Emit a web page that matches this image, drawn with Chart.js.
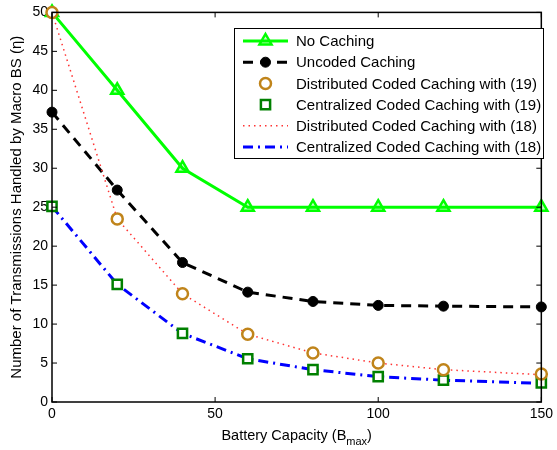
<!DOCTYPE html>
<html>
<head>
<meta charset="utf-8">
<script src="https://cdn.jsdelivr.net/npm/chart.js@4/dist/chart.umd.min.js"></script>
<style>
  html, body { margin: 0; padding: 0; background: #fff; }
  #wrap { position: relative; width: 557px; height: 450px; }
</style>
</head>
<body>
<div id="wrap"><canvas id="chart"></canvas></div>
<script>
// Battery capacity values (x axis)
const batteryCap = [0, 20, 40, 60, 80, 100, 120, 150];

// Series
const noCaching     = [50, 40, 30, 25, 25, 25, 25, 25];
const uncoded       = [37.2, 27.2, 17.9, 14.1, 12.9, 12.4, 12.3, 12.2];
const distCoded19   = [50, 23.5, 13.9, 8.7, 6.3, 5.0, 4.15, 3.6];
const centCoded19   = [25.1, 15.1, 8.8, 5.55, 4.15, 3.25, 2.8, 2.45];
const distCoded18   = [50, 23.5, 13.9, 8.7, 6.3, 5.0, 4.15, 3.5];
const centCoded18   = [25.1, 15.1, 8.8, 5.55, 4.15, 3.25, 2.8, 2.4];

const xTicks = [0, 50, 100, 150];
const yTicks = [0, 5, 10, 15, 20, 25, 30, 35, 40, 45, 50];

const FONT = '"Liberation Sans", Arial, Helvetica, sans-serif';
const pts = arr => arr.map((v, i) => ({ x: batteryCap[i], y: v }));

// legend box + inward ticks + axis titles, drawn MATLAB style
const matlabFrame = {
  id: 'matlabFrame',
  afterDraw(chart) {
    const { ctx, chartArea: a, scales: { x, y } } = chart;
    ctx.save();
    ctx.strokeStyle = '#000';
    ctx.lineWidth = 1.5;
    ctx.setLineDash([]);
    ctx.strokeRect(a.left, a.top, a.right - a.left, a.bottom - a.top);

    // inward ticks
    ctx.lineWidth = 1;
    const tl = 5;
    xTicks.forEach(v => {
      const px = x.getPixelForValue(v);
      ctx.beginPath();
      ctx.moveTo(px, a.bottom); ctx.lineTo(px, a.bottom - tl);
      ctx.moveTo(px, a.top); ctx.lineTo(px, a.top + tl);
      ctx.stroke();
    });
    yTicks.forEach(v => {
      const py = y.getPixelForValue(v);
      ctx.beginPath();
      ctx.moveTo(a.left, py); ctx.lineTo(a.left + tl, py);
      ctx.moveTo(a.right, py); ctx.lineTo(a.right - tl, py);
      ctx.stroke();
    });

    // x title with subscript
    ctx.fillStyle = '#000';
    ctx.textBaseline = 'alphabetic';
    ctx.textAlign = 'left';
    const main = 'Battery Capacity (B', sub = 'max', close = ')';
    ctx.font = '14.5px ' + FONT;
    const w1 = ctx.measureText(main).width, w3 = ctx.measureText(close).width;
    ctx.font = '11px ' + FONT;
    const w2 = ctx.measureText(sub).width;
    let sx = (a.left + a.right) / 2 - (w1 + w2 + w3) / 2;
    const by = 440;
    ctx.font = '14.5px ' + FONT;
    ctx.fillText(main, sx, by);
    ctx.font = '11px ' + FONT;
    ctx.fillText(sub, sx + w1, by + 5);
    ctx.font = '14.5px ' + FONT;
    ctx.fillText(close, sx + w1 + w2, by);

    // y title
    ctx.save();
    ctx.translate(21, (a.top + a.bottom) / 2);
    ctx.rotate(-Math.PI / 2);
    ctx.textAlign = 'center';
    ctx.font = '15px ' + FONT;
    ctx.fillText('Number of Transmissions Handled by Macro BS (\u03B7)', 0, 0);
    ctx.restore();

    // legend
    const lx = 234, ly = 28, lw = 309, lh = 130;
    ctx.fillStyle = '#fff';
    ctx.fillRect(lx, ly, lw, lh);
    ctx.strokeStyle = '#000';
    ctx.lineWidth = 1;
    ctx.strokeRect(lx + 0.5, ly + 0.5, lw, lh);
    chart.data.datasets.forEach((ds, i) => {
      const cy = ly + 13 + i * 21.2;
      const x0 = 243, x1 = 288, cx = (x0 + x1) / 2;
      if (ds.showLine !== false) {
        ctx.beginPath();
        ctx.strokeStyle = ds.borderColor;
        ctx.lineWidth = ds.borderWidth;
        ctx.setLineDash(ds.borderDash || []);
        ctx.moveTo(x0, cy); ctx.lineTo(x1, cy);
        ctx.stroke();
        ctx.setLineDash([]);
      }
      if (ds.pointRadius > 0) {
        ctx.beginPath();
        ctx.strokeStyle = ds.pointBorderColor;
        ctx.fillStyle = ds.pointBackgroundColor;
        ctx.lineWidth = ds.pointBorderWidth;
        const r = ds.pointRadius;
        if (ds.pointStyle === 'triangle') {
          ctx.moveTo(cx, cy - r);
          ctx.lineTo(cx + r * 0.866, cy + r * 0.5);
          ctx.lineTo(cx - r * 0.866, cy + r * 0.5);
          ctx.closePath();
        } else if (ds.pointStyle === 'rect') {
          const s = r * Math.SQRT1_2;
          ctx.rect(cx - s, cy - s, 2 * s, 2 * s);
        } else {
          ctx.arc(cx, cy, r, 0, Math.PI * 2);
        }
        ctx.fill();
        ctx.stroke();
      }
      ctx.fillStyle = '#000';
      ctx.font = '15px ' + FONT;
      ctx.textAlign = 'left';
      ctx.textBaseline = 'middle';
      ctx.fillText(ds.label, 296, cy + 1);
    });
    ctx.restore();
  }
};

new Chart(document.getElementById('chart'), {
  type: 'line',
  data: {
    datasets: [
      { label: 'No Caching', data: pts(noCaching), borderColor: '#00ff00', borderWidth: 3,
        pointStyle: 'triangle', pointRadius: 7, pointBorderColor: '#00ff00', pointBackgroundColor: 'rgba(0,255,0,0.25)', pointBorderWidth: 2.5, order: 2 },
      { label: 'Uncoded Caching', data: pts(uncoded), borderColor: '#000000', borderWidth: 3, borderDash: [10, 7],
        pointStyle: 'circle', pointRadius: 5, pointBorderColor: '#000', pointBackgroundColor: '#000', pointBorderWidth: 1, order: 2 },
      { label: 'Distributed Coded Caching with (19)', data: pts(distCoded19), showLine: false, borderColor: '#c0841a', borderWidth: 0,
        pointStyle: 'circle', pointRadius: 5.5, pointBorderColor: '#c0841a', pointBackgroundColor: '#ffffff', pointBorderWidth: 2.5, order: 0 },
      { label: 'Centralized Coded Caching with (19)', data: pts(centCoded19), showLine: false, borderColor: '#008000', borderWidth: 0,
        pointStyle: 'rect', pointRadius: 6.5, pointBorderColor: '#008000', pointBackgroundColor: '#ffffff', pointBorderWidth: 2.5, order: 0 },
      { label: 'Distributed Coded Caching with (18)', data: pts(distCoded18), borderColor: '#ff3333', borderWidth: 1.5, borderDash: [1.5, 4],
        pointRadius: 0, order: 1 },
      { label: 'Centralized Coded Caching with (18)', data: pts(centCoded18), borderColor: '#0000ff', borderWidth: 3, borderDash: [10, 5, 2, 5],
        pointRadius: 0, order: 1 }
    ]
  },
  options: {
    responsive: true, maintainAspectRatio: false, animation: false,
    clip: false,
    layout: { padding: { top: 8, right: 12, left: 0, bottom: 0 } },
    elements: { line: { tension: 0, fill: false } },
    plugins: { legend: { display: false }, tooltip: { enabled: false } },
    scales: {
      x: {
        type: 'linear', min: 0, max: 150,
        afterFit: s => { s.height = 48; },
        afterBuildTicks: s => { s.ticks = xTicks.map(v => ({ value: v })); },
        ticks: { color: '#000', padding: 4, font: { family: FONT, size: 14 } },
        grid: { display: false, drawTicks: false },
        border: { display: false }
      },
      y: {
        min: 0, max: 50,
        afterFit: s => { s.width = 52; },
        afterBuildTicks: s => { s.ticks = yTicks.map(v => ({ value: v })); },
        ticks: { color: '#000', padding: 4, font: { family: FONT, size: 14 } },
        grid: { display: false, drawTicks: false },
        border: { display: false }
      }
    }
  },
  plugins: [matlabFrame]
});
</script>
</body>
</html>
